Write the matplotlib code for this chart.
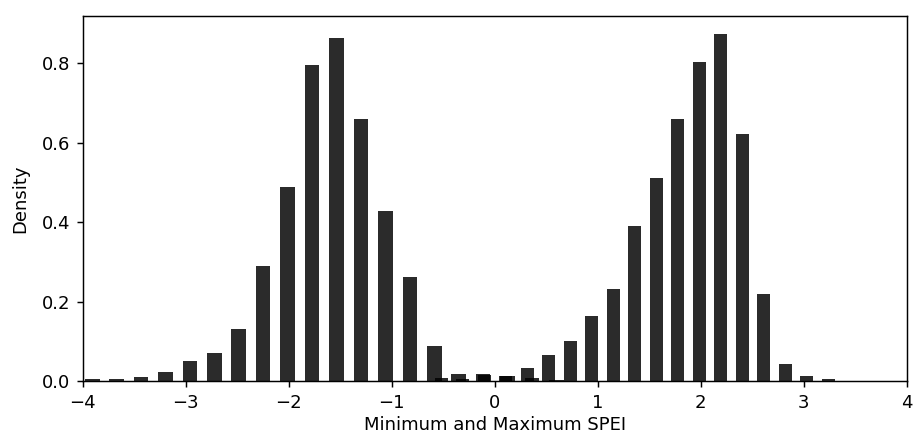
import matplotlib
matplotlib.use('Agg')
import matplotlib.pyplot as plt

# minimum SPEI histogram (bin centres, density)
min_centers = [-3.908, -3.671, -3.434, -3.196, -2.959, -2.722, -2.485, -2.248,
               -2.010, -1.773, -1.536, -1.299, -1.062, -0.824, -0.587, -0.350,
               -0.113, 0.124, 0.362, 0.599]
min_density = [0.004, 0.004, 0.009, 0.024, 0.051, 0.071, 0.130, 0.289,
               0.489, 0.796, 0.864, 0.661, 0.428, 0.261, 0.088, 0.018,
               0.017, 0.013, 0.008, 0.003]
min_binwidth = 0.2372

# maximum SPEI histogram
max_centers = [-0.520, -0.311, -0.102, 0.107, 0.316, 0.525, 0.733, 0.942,
               1.151, 1.360, 1.569, 1.778, 1.987, 2.196, 2.405, 2.614,
               2.822, 3.031, 3.240]
max_density = [0.008, 0.005, 0.016, 0.012, 0.034, 0.065, 0.101, 0.164,
               0.233, 0.391, 0.511, 0.661, 0.803, 0.873, 0.623, 0.218,
               0.043, 0.014, 0.004]
max_binwidth = 0.2089

rwidth = 0.6

# the picture looks like a 10pt figure scaled up by ~1.3
plt.rcParams['font.size'] = 13
plt.rcParams['axes.linewidth'] = 1.05
plt.rcParams['xtick.major.size'] = 4.5
plt.rcParams['ytick.major.size'] = 4.5
plt.rcParams['xtick.major.width'] = 1.05
plt.rcParams['ytick.major.width'] = 1.05
plt.rcParams['xtick.major.pad'] = 4.5
plt.rcParams['ytick.major.pad'] = 4.5

fig = plt.figure(figsize=(9.14, 4.37), dpi=100)
ax = fig.add_axes([0.0905, 0.128, 0.9015, 0.836])

ax.bar(min_centers, min_density, width=min_binwidth * rwidth, color='k', alpha=0.83)
ax.bar(max_centers, max_density, width=max_binwidth * rwidth, color='k', alpha=0.83)

ax.set_xlim(-4, 4)
ax.set_ylim(0, 0.92)
ax.set_yticks([0.0, 0.2, 0.4, 0.6, 0.8])
ax.set_xlabel('Minimum and Maximum SPEI', labelpad=3)
ax.set_ylabel('Density', labelpad=9)

fig.savefig('out.png', dpi=100)
